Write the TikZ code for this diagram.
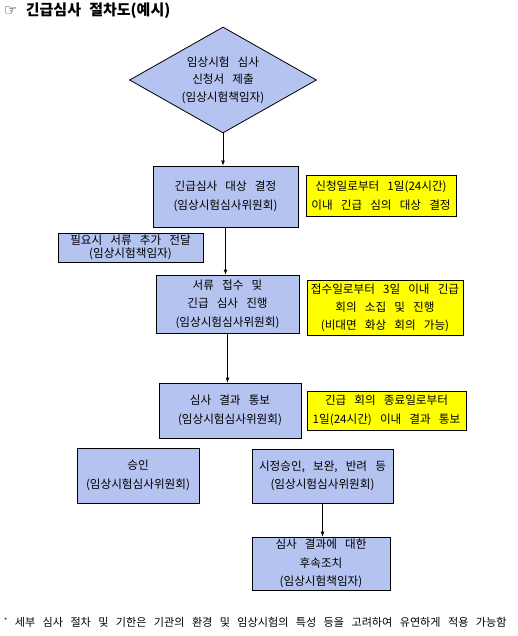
\documentclass[tikz,border=0pt]{standalone}
\usepackage{fontspec}
\setmainfont{Noto Sans CJK KR}
\newfontfamily\symfont{DejaVu Sans}
\usepackage{xcolor}
\usetikzlibrary{
	arrows.meta,
	shapes.geometric,
	positioning
}
\definecolor{BoxBlue}{RGB}{180,195,240}
\definecolor{NoteYellow}{RGB}{255,255,0}
\newcommand{\boxfont}[1]{\fontsize{11.6}{#1}\selectfont\spaceskip 0.7em\relax}
\newcommand{\titlefont}{\fontsize{15}{17}\selectfont\bfseries\spaceskip 0.55em\relax}
\newcommand{\footfont}{\fontsize{11.1}{13}\selectfont\spaceskip 7.4pt\relax}

\begin{document}
\begin{tikzpicture}[x=1pt, y=-1pt,
		box/.style={draw, line width=0.8pt, fill=BoxBlue, align=center, inner sep=0pt, font=\boxfont{18.5}},
		note/.style={box, fill=NoteYellow},
		flow/.style={-{Latex[length=5pt,width=4pt]}, line width=0.8pt}]
		\useasboundingbox (0,0) rectangle (517,636);
		% title
		\node[anchor=west, inner sep=0pt, font=\titlefont] (title) at (4,11) {{\symfont ☞} 긴급심사 절차도(예시)};
		% main flow
		\node[box, diamond, aspect=1.76, minimum width=187pt, minimum height=106pt, font=\boxfont{17.5}] (submit) at (223,80) {임상시험 심사\\신청서 제출\\(임상시험책임자)};
		\node[box, minimum width=145pt, minimum height=61pt] (decide) at (225.5,196.5) {긴급심사 대상 결정\\(임상시험심사위원회)};
		\node[box, minimum width=145pt, minimum height=29pt, font=\boxfont{13}] (extra) at (130.5,247.5) {필요시 서류 추가 전달\\(임상시험책임자)};
		\node[box, minimum width=143pt, minimum height=58pt] (review) at (227.5,304) {서류 접수 및\\긴급 심사 진행\\(임상시험심사위원회)};
		\node[box, minimum width=142pt, minimum height=55pt] (notify) at (230,410.5) {심사 결과 통보\\(임상시험심사위원회)};
		\node[box, minimum width=122pt, minimum height=55pt] (approve) at (138,475.5) {승인\\(임상시험심사위원회)};
		\node[box, minimum width=141pt, minimum height=54pt] (revise) at (322.5,476) {시정승인, 보완, 반려 등\\(임상시험심사위원회)};
		\node[box, minimum width=138pt, minimum height=53pt] (followup) at (321,563.5) {심사 결과에 대한\\후속조치\\(임상시험책임자)};
		% deadlines
		\node[note, minimum width=150pt, minimum height=41pt] (note1) at (381,195.5) {신청일로부터 1일(24시간)\\이내 긴급 심의 대상 결정};
		\node[note, minimum width=156pt, minimum height=55pt, font=\boxfont{18}] (note2) at (385,307.5) {접수일로부터 3일 이내 긴급\\회의 소집 및 진행\\(비대면 화상 회의 가능)};
		\node[note, minimum width=159pt, minimum height=39pt] (note3) at (386.5,410.5) {긴급 회의 종료일로부터\\1일(24시간) 이내 결과 통보};
		% connectors
		\draw[flow] (submit.south) -- (submit.south |- decide.north);
		\draw[flow] (decide.south) -- (decide.south |- review.north);
		\draw[flow] (review.south) -- (review.south |- notify.north);
		\draw[flow] (revise.south) -- (revise.south |- followup.north);
		% footnote
		\node[anchor=west, inner sep=0pt, font=\footfont] (footnote) at (4,622) {\raisebox{3pt}{\scriptsize *} 세부 심사 절차 및 기한은 기관의 환경 및 임상시험의 특성 등을 고려하여 유연하게 적용 가능함};
	\end{tikzpicture}
\end{document}
